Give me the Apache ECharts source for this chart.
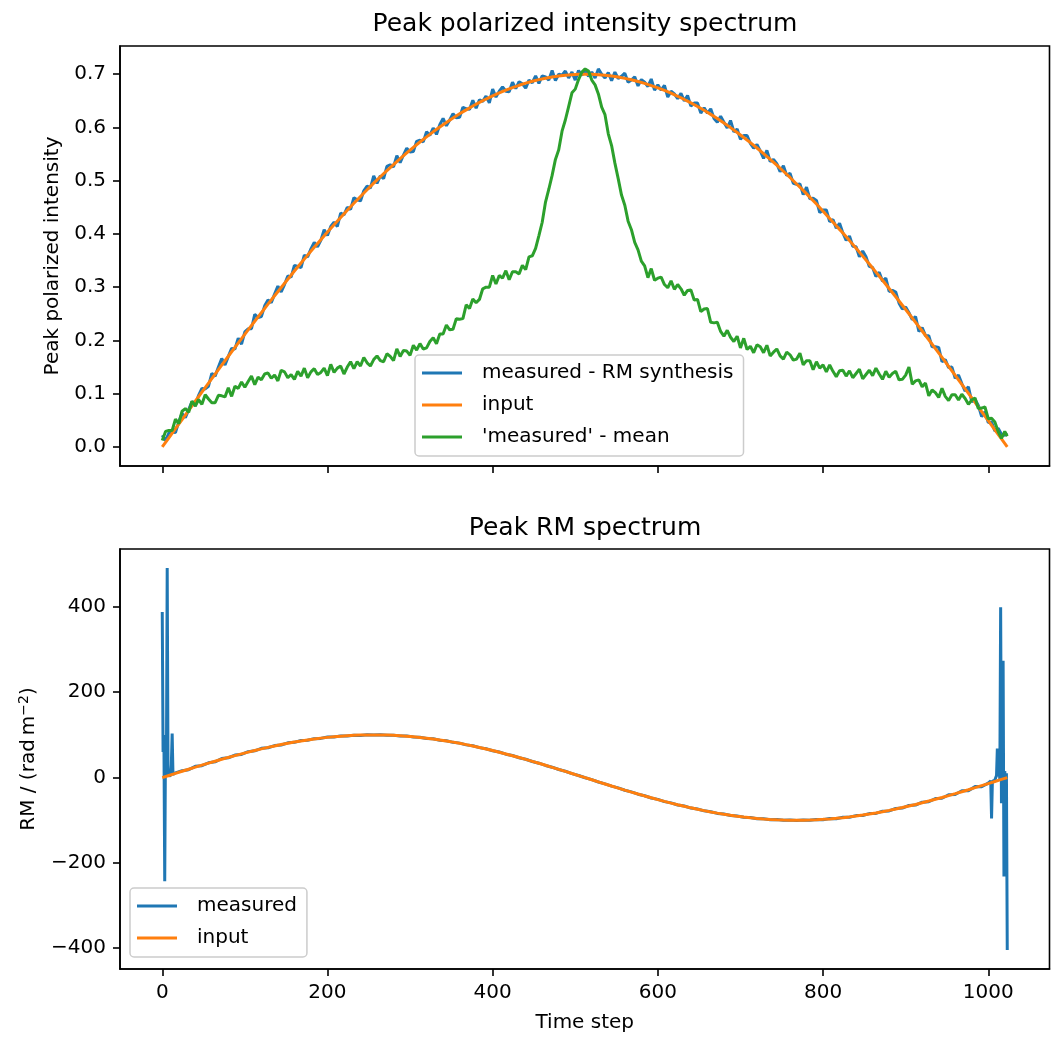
<!DOCTYPE html>
<html>
<head>
<meta charset="utf-8">
<title>Peak spectra</title>
<script src="https://cdn.jsdelivr.net/npm/echarts@6/dist/echarts.min.js"></script>
<style>
  html, body { margin: 0; padding: 0; background: #fff; }
  #chart { width: 1064px; height: 1050px; }
</style>
</head>
<body>
<div id="chart"></div>
<script>
// time steps of the smooth input curves
var steps = [
  0, 8, 16, 24, 32, 40, 48, 56,
  64, 72, 80, 88, 96, 104, 112, 120,
  128, 136, 144, 152, 160, 168, 176, 184,
  192, 200, 208, 216, 224, 232, 240, 248,
  256, 264, 272, 280, 288, 296, 304, 312,
  320, 328, 336, 344, 352, 360, 368, 376,
  384, 392, 400, 408, 416, 424, 432, 440,
  448, 456, 464, 472, 480, 488, 496, 504,
  512, 520, 528, 536, 544, 552, 560, 568,
  576, 584, 592, 600, 608, 616, 624, 632,
  640, 648, 656, 664, 672, 680, 688, 696,
  704, 712, 720, 728, 736, 744, 752, 760,
  768, 776, 784, 792, 800, 808, 816, 824,
  832, 840, 848, 856, 864, 872, 880, 888,
  896, 904, 912, 920, 928, 936, 944, 952,
  960, 968, 976, 984, 992, 1000, 1008, 1016,
  1023
];

// finer time steps for the noisy polarized intensity curves
var fineSteps = [
  0, 4, 8, 12, 16, 20, 24, 28, 32, 36, 40, 44, 48, 52, 56, 60,
  64, 68, 72, 76, 80, 84, 88, 92, 96, 100, 104, 108, 112, 116, 120, 124,
  128, 132, 136, 140, 144, 148, 152, 156, 160, 164, 168, 172, 176, 180, 184, 188,
  192, 196, 200, 204, 208, 212, 216, 220, 224, 228, 232, 236, 240, 244, 248, 252,
  256, 260, 264, 268, 272, 276, 280, 284, 288, 292, 296, 300, 304, 308, 312, 316,
  320, 324, 328, 332, 336, 340, 344, 348, 352, 356, 360, 364, 368, 372, 376, 380,
  384, 388, 392, 396, 400, 404, 408, 412, 416, 420, 424, 428, 432, 436, 440, 444,
  448, 452, 456, 460, 464, 468, 472, 476, 480, 484, 488, 492, 496, 500, 504, 508,
  512, 516, 520, 524, 528, 532, 536, 540, 544, 548, 552, 556, 560, 564, 568, 572,
  576, 580, 584, 588, 592, 596, 600, 604, 608, 612, 616, 620, 624, 628, 632, 636,
  640, 644, 648, 652, 656, 660, 664, 668, 672, 676, 680, 684, 688, 692, 696, 700,
  704, 708, 712, 716, 720, 724, 728, 732, 736, 740, 744, 748, 752, 756, 760, 764,
  768, 772, 776, 780, 784, 788, 792, 796, 800, 804, 808, 812, 816, 820, 824, 828,
  832, 836, 840, 844, 848, 852, 856, 860, 864, 868, 872, 876, 880, 884, 888, 892,
  896, 900, 904, 908, 912, 916, 920, 924, 928, 932, 936, 940, 944, 948, 952, 956,
  960, 964, 968, 972, 976, 980, 984, 988, 992, 996, 1000, 1004, 1008, 1012, 1016, 1020,
  1023
];

var piMeasured = [
  0.022, 0.012, 0.026, 0.028, 0.027, 0.047, 0.063, 0.055, 0.070, 0.085, 0.077, 0.097, 0.110, 0.109, 0.114, 0.138,
  0.133, 0.150, 0.166, 0.154, 0.170, 0.185, 0.184, 0.204, 0.193, 0.216, 0.222, 0.222, 0.249, 0.243, 0.245, 0.265,
  0.276, 0.271, 0.287, 0.302, 0.291, 0.305, 0.321, 0.319, 0.341, 0.339, 0.337, 0.360, 0.357, 0.372, 0.384, 0.376,
  0.388, 0.408, 0.397, 0.414, 0.422, 0.414, 0.439, 0.436, 0.450, 0.446, 0.468, 0.464, 0.462, 0.481, 0.490, 0.486,
  0.509, 0.495, 0.509, 0.504, 0.527, 0.530, 0.526, 0.547, 0.534, 0.548, 0.561, 0.554, 0.555, 0.574, 0.576, 0.573,
  0.592, 0.585, 0.599, 0.587, 0.605, 0.617, 0.603, 0.614, 0.626, 0.618, 0.619, 0.638, 0.635, 0.634, 0.651, 0.636,
  0.652, 0.649, 0.659, 0.646, 0.672, 0.657, 0.668, 0.676, 0.668, 0.667, 0.685, 0.673, 0.686, 0.682, 0.674, 0.689,
  0.684, 0.697, 0.683, 0.697, 0.695, 0.689, 0.707, 0.688, 0.700, 0.698, 0.706, 0.693, 0.704, 0.689, 0.707, 0.698,
  0.709, 0.696, 0.704, 0.693, 0.710, 0.700, 0.693, 0.703, 0.688, 0.704, 0.692, 0.696, 0.702, 0.685, 0.689, 0.695,
  0.678, 0.690, 0.685, 0.677, 0.691, 0.670, 0.680, 0.670, 0.679, 0.657, 0.668, 0.663, 0.654, 0.664, 0.650, 0.660,
  0.640, 0.646, 0.646, 0.627, 0.637, 0.627, 0.635, 0.617, 0.610, 0.621, 0.610, 0.599, 0.613, 0.592, 0.597, 0.578,
  0.585, 0.585, 0.570, 0.561, 0.568, 0.556, 0.542, 0.557, 0.536, 0.540, 0.532, 0.517, 0.528, 0.510, 0.514, 0.495,
  0.493, 0.494, 0.474, 0.488, 0.466, 0.467, 0.463, 0.440, 0.445, 0.445, 0.423, 0.427, 0.411, 0.420, 0.402, 0.388,
  0.396, 0.377, 0.376, 0.357, 0.368, 0.357, 0.339, 0.337, 0.320, 0.328, 0.311, 0.317, 0.292, 0.294, 0.291, 0.270,
  0.259, 0.263, 0.252, 0.239, 0.245, 0.217, 0.224, 0.209, 0.209, 0.188, 0.188, 0.187, 0.160, 0.164, 0.149, 0.150,
  0.129, 0.135, 0.119, 0.105, 0.113, 0.085, 0.089, 0.078, 0.057, 0.066, 0.046, 0.047, 0.030, 0.035, 0.024, 0.022,
  0.026
];

var piInput = [
  0, 0.0172, 0.0344, 0.0515, 0.0687, 0.0858, 0.1028, 0.1198,
  0.1367, 0.1535, 0.1703, 0.1869, 0.2034, 0.2198, 0.2360, 0.2521,
  0.2681, 0.2839, 0.2995, 0.3150, 0.3303, 0.3454, 0.3602, 0.3749,
  0.3893, 0.4035, 0.4174, 0.4310, 0.4444, 0.4576, 0.4704, 0.4829,
  0.4954, 0.5074, 0.5189, 0.5303, 0.5414, 0.5521, 0.5627, 0.5727,
  0.5824, 0.5918, 0.6008, 0.6094, 0.6177, 0.6256, 0.6331, 0.6403,
  0.6471, 0.6534, 0.6594, 0.6649, 0.6701, 0.6749, 0.6792, 0.6832,
  0.6867, 0.6899, 0.6926, 0.6949, 0.6967, 0.6982, 0.6992, 0.6998,
  0.7000, 0.6998, 0.6991, 0.6980, 0.6965, 0.6946, 0.6922, 0.6895,
  0.6863, 0.6827, 0.6787, 0.6743, 0.6695, 0.6643, 0.6586, 0.6526,
  0.6462, 0.6394, 0.6322, 0.6246, 0.6167, 0.6084, 0.5997, 0.5906,
  0.5812, 0.5715, 0.5614, 0.5510, 0.5402, 0.5292, 0.5178, 0.5061,
  0.4938, 0.4818, 0.4691, 0.4561, 0.4428, 0.4291, 0.4152, 0.4017,
  0.3875, 0.3730, 0.3584, 0.3435, 0.3284, 0.3131, 0.2976, 0.2820,
  0.2661, 0.2502, 0.2340, 0.2177, 0.2013, 0.1848, 0.1682, 0.1514,
  0.1346, 0.1177, 0.1007, 0.0836, 0.0665, 0.0494, 0.0322, 0.0150,
  0
];

var piMean = [
  0.012, 0.029, 0.031, 0.031, 0.052, 0.044, 0.067, 0.072, 0.065, 0.086, 0.077, 0.089, 0.080, 0.098, 0.090, 0.083,
  0.083, 0.097, 0.096, 0.094, 0.111, 0.095, 0.114, 0.110, 0.122, 0.112, 0.123, 0.133, 0.117, 0.131, 0.126, 0.137,
  0.139, 0.129, 0.135, 0.124, 0.144, 0.141, 0.130, 0.136, 0.127, 0.142, 0.133, 0.148, 0.130, 0.141, 0.147, 0.136,
  0.140, 0.148, 0.134, 0.155, 0.140, 0.148, 0.152, 0.137, 0.150, 0.160, 0.147, 0.160, 0.152, 0.168, 0.158, 0.152,
  0.164, 0.171, 0.162, 0.160, 0.175, 0.170, 0.162, 0.184, 0.170, 0.181, 0.180, 0.172, 0.191, 0.182, 0.194, 0.184,
  0.186, 0.198, 0.205, 0.194, 0.212, 0.212, 0.229, 0.220, 0.221, 0.241, 0.240, 0.241, 0.267, 0.260, 0.278, 0.271,
  0.277, 0.297, 0.300, 0.300, 0.322, 0.306, 0.322, 0.317, 0.331, 0.314, 0.329, 0.329, 0.325, 0.341, 0.333, 0.357,
  0.359, 0.373, 0.397, 0.422, 0.460, 0.484, 0.510, 0.540, 0.558, 0.593, 0.614, 0.639, 0.665, 0.672, 0.690, 0.704,
  0.710, 0.706, 0.689, 0.680, 0.663, 0.638, 0.624, 0.588, 0.566, 0.533, 0.504, 0.473, 0.454, 0.424, 0.408, 0.384,
  0.370, 0.349, 0.340, 0.318, 0.335, 0.313, 0.317, 0.319, 0.305, 0.299, 0.312, 0.296, 0.305, 0.297, 0.285, 0.294,
  0.295, 0.276, 0.277, 0.254, 0.259, 0.260, 0.234, 0.233, 0.234, 0.217, 0.208, 0.219, 0.206, 0.198, 0.208, 0.186,
  0.204, 0.183, 0.189, 0.177, 0.192, 0.188, 0.177, 0.191, 0.171, 0.178, 0.184, 0.171, 0.165, 0.178, 0.173, 0.163,
  0.165, 0.176, 0.154, 0.162, 0.162, 0.145, 0.160, 0.148, 0.154, 0.141, 0.154, 0.142, 0.132, 0.143, 0.144, 0.133,
  0.143, 0.130, 0.138, 0.146, 0.128, 0.136, 0.144, 0.134, 0.148, 0.137, 0.127, 0.142, 0.131, 0.138, 0.142, 0.126,
  0.127, 0.135, 0.150, 0.118, 0.124, 0.126, 0.113, 0.120, 0.096, 0.107, 0.102, 0.093, 0.110, 0.095, 0.087, 0.098,
  0.098, 0.088, 0.099, 0.091, 0.080, 0.088, 0.092, 0.072, 0.073, 0.075, 0.053, 0.054, 0.047, 0.029, 0.016, 0.029,
  0.020
];

// measured RM is sampled every step near the edges, where it jumps
var rmSteps = [
  0, 1, 2, 3, 4, 5, 6, 7, 8, 9, 10, 11, 12, 13, 14, 15, 16,
  24, 32, 40, 48, 56,
  64, 72, 80, 88, 96, 104, 112, 120,
  128, 136, 144, 152, 160, 168, 176, 184,
  192, 200, 208, 216, 224, 232, 240, 248,
  256, 264, 272, 280, 288, 296, 304, 312,
  320, 328, 336, 344, 352, 360, 368, 376,
  384, 392, 400, 408, 416, 424, 432, 440,
  448, 456, 464, 472, 480, 488, 496, 504,
  512, 520, 528, 536, 544, 552, 560, 568,
  576, 584, 592, 600, 608, 616, 624, 632,
  640, 648, 656, 664, 672, 680, 688, 696,
  704, 712, 720, 728, 736, 744, 752, 760,
  768, 776, 784, 792, 800, 808, 816, 824,
  832, 840, 848, 856, 864, 872, 880, 888,
  896, 904, 912, 920, 928, 936, 944, 952,
  960, 968, 976, 984, 992,
  1000, 1001, 1002, 1003, 1004, 1005, 1006, 1007, 1008, 1009, 1010, 1011,
  1012, 1013, 1014, 1015, 1016, 1017, 1018, 1019, 1020, 1021, 1022, 1023
];

var rmMeasured = [
  388, 60, 99, -243, 100, 6, 491, 5, 3, 6, 4, 30, 103, 7, 6, 10, 11,
  16.2, 18.5, 26.3, 27.9, 34.7,
  36.8, 44.6, 46.4, 52.7, 54.3, 60.6, 62.6, 68.6,
  69.8, 74.9, 76.3, 81.4, 82.5, 86.7, 87.3, 91.2,
  91.8, 95.1, 94.9, 97.7, 97.5, 99.4, 98.8, 100.5,
  99.5, 100.5, 98.9, 99.4, 97.4, 97.7, 95.1, 94.7,
  91.7, 90.8, 87.6, 86.3, 82.5, 80.7, 76.6, 74.5,
  70.2, 67.5, 62.8, 59.8, 54.8, 51.6, 46.5, 42.9,
  37.6, 33.7, 28.4, 24.3, 18.9, 14.7, 9.2, 4.9,
  -0.5, -4.9, -10.4, -14.7, -20.1, -24.2, -29.8, -33.6,
  -39.0, -42.6, -47.9, -51.2, -56.4, -59.4, -64.2, -66.8,
  -71.5, -73.8, -78.0, -80.0, -84.0, -85.4, -88.9, -90.0,
  -93.1, -93.8, -96.4, -96.5, -98.7, -98.4, -100.2, -99.4,
  -100.6, -99.3, -100.1, -98.2, -98.7, -96.1, -96.4, -93.1,
  -93.1, -89.2, -89.0, -84.4, -84.0, -78.8, -78.2, -72.5,
  -71.6, -65.4, -64.5, -57.6, -56.7, -49.2, -48.4, -40.3,
  -39.7, -30.9, -30.8, -21.2, -21.4,
  -13, -12, -11, -8, -96, -9, -8, -7, -6, -3, 5, 68,
  3, 30, -5, 399, -60, 20, 274, -232, 15, -40, 10, -404
];

var rmInput = [
  0, 4.91, 9.81, 14.69, 19.53, 24.32, 29.06, 33.72,
  38.30, 42.79, 47.18, 51.46, 55.61, 59.63, 63.49, 67.20,
  70.76, 74.14, 77.35, 80.38, 83.20, 85.83, 88.25, 90.44,
  92.44, 94.20, 95.73, 97.03, 98.10, 98.94, 99.53, 99.89,
  100.00, 99.87, 99.50, 98.89, 98.04, 96.96, 95.64, 94.09,
  92.31, 90.31, 88.09, 85.67, 83.03, 80.20, 77.17, 73.97,
  70.55, 66.99, 63.25, 59.37, 55.34, 51.19, 46.91, 42.52,
  38.02, 33.43, 28.76, 24.02, 19.23, 14.38, 9.51, 4.60,
  -0.31, -5.22, -10.12, -14.99, -19.83, -24.62, -29.35, -34.01,
  -38.59, -43.07, -47.45, -51.72, -55.86, -59.87, -63.73, -67.43,
  -70.98, -74.35, -77.54, -80.55, -83.37, -85.99, -88.38, -90.58,
  -92.54, -94.30, -95.82, -97.11, -98.16, -98.98, -99.56, -99.90,
  -100.00, -99.86, -99.47, -98.85, -97.98, -96.89, -95.55, -93.99,
  -92.19, -90.18, -87.95, -85.51, -82.87, -80.03, -76.98, -73.75,
  -70.34, -66.76, -63.02, -59.12, -55.09, -50.93, -46.64, -42.24,
  -37.74, -33.14, -28.47, -23.73, -18.92, -14.08, -9.20, -4.30,
  0
];

var timeTicks = [0, 200, 400, 600, 800, 1000];
var piTicks = [0, 0.1, 0.2, 0.3, 0.4, 0.5, 0.6, 0.7];
var rmTicks = [-400, -200, 0, 200, 400];

var FONT = 'DejaVu Sans';
var BLUE = '#1f77b4', ORANGE = '#ff7f0e', GREEN = '#2ca02c';

function pairs(xs, ys) {
  var out = [];
  for (var i = 0; i < ys.length; i++) out.push([xs[i], ys[i]]);
  return out;
}

function minusSign(v) {
  return v < 0 ? '\u2212' + (-v) : String(v);
}

var spine = { show: true, onZero: false, lineStyle: { color: '#000', width: 1.6 } };
var tickLine = { color: '#000', width: 1.6 };

function xAxisFor(idx) {
  return {
    type: 'value', gridIndex: idx, min: -51.15, max: 1074.15,
    axisLine: spine,
    axisTick: { show: true, inside: false, length: 7, customValues: timeTicks, lineStyle: tickLine },
    axisLabel: { show: idx === 1, customValues: timeTicks, margin: 14,
      fontFamily: FONT, fontSize: 20, color: '#000',
      formatter: function (v) { return String(v); } },
    splitLine: { show: false },
    name: idx === 1 ? 'Time step' : '',
    nameLocation: 'middle', nameGap: 44,
    nameTextStyle: { fontFamily: FONT, fontSize: 20, color: '#000' }
  };
}

function lineSeries(name, xi, xs, ys, color) {
  return {
    name: name, type: 'line', xAxisIndex: xi, yAxisIndex: xi,
    data: pairs(xs, ys), showSymbol: false, symbol: 'none', silent: true,
    lineStyle: { width: 3, color: color }, itemStyle: { color: color }
  };
}

var legendBase = {
  orient: 'vertical', icon: 'rect', itemWidth: 40, itemHeight: 3, itemGap: 8,
  padding: [6, 10, 7, 7], selectedMode: false,
  backgroundColor: 'rgba(255,255,255,0.8)', borderColor: '#cccccc',
  borderWidth: 1.5, borderRadius: 4,
  textStyle: { fontFamily: FONT, fontSize: 20, color: '#000', lineHeight: 24, padding: [0, 0, 0, 15] }
};

var chart = echarts.init(document.getElementById('chart'), null, { renderer: 'canvas' });

chart.setOption({
  animation: false,
  backgroundColor: '#fff',
  title: [
    { text: 'Peak polarized intensity spectrum', left: 585, top: 12, textAlign: 'center', padding: 0,
      textStyle: { fontFamily: FONT, fontSize: 25, fontWeight: 'normal', color: '#000' } },
    { text: 'Peak RM spectrum', left: 585, top: 516, textAlign: 'center', padding: 0,
      textStyle: { fontFamily: FONT, fontSize: 25, fontWeight: 'normal', color: '#000' } }
  ],
  grid: [
    { left: 120, top: 46, width: 929.5, height: 420, show: true, borderColor: '#000', borderWidth: 1.6 },
    { left: 120, top: 549, width: 929.5, height: 420, show: true, borderColor: '#000', borderWidth: 1.6 }
  ],
  legend: [
    Object.assign({}, legendBase, {
      data: ['measured - RM synthesis', 'input', "'measured' - mean"], left: 415, top: 355
    }),
    Object.assign({}, legendBase, {
      data: ['measured', 'input'], left: 130, top: 888
    })
  ],
  xAxis: [xAxisFor(0), xAxisFor(1)],
  yAxis: [
    {
      type: 'value', gridIndex: 0, min: -0.0358, max: 0.753,
      axisLine: spine,
      axisTick: { show: true, length: 7, customValues: piTicks, lineStyle: tickLine },
      axisLabel: { customValues: piTicks, margin: 14, fontFamily: FONT, fontSize: 20, color: '#000',
        formatter: function (v) { return v.toFixed(1); } },
      splitLine: { show: false },
      name: 'Peak polarized intensity', nameLocation: 'middle', nameGap: 57,
      nameTextStyle: { fontFamily: FONT, fontSize: 20, color: '#000' }
    },
    {
      type: 'value', gridIndex: 1, min: -448.75, max: 535.75,
      axisLine: spine,
      axisTick: { show: true, length: 7, customValues: rmTicks, lineStyle: tickLine },
      axisLabel: { customValues: rmTicks, margin: 14, fontFamily: FONT, fontSize: 20, color: '#000',
        formatter: minusSign },
      splitLine: { show: false },
      name: 'RM / (rad\u2009m{sup|\u22122})', nameLocation: 'middle', nameGap: 80,
      nameTextStyle: { fontFamily: FONT, fontSize: 20, color: '#000',
        rich: { sup: { fontFamily: FONT, fontSize: 14, color: '#000', padding: [0, 0, 9, 0] } } }
    }
  ],
  series: [
    lineSeries('measured - RM synthesis', 0, fineSteps, piMeasured, BLUE),
    lineSeries('input', 0, steps, piInput, ORANGE),
    lineSeries("'measured' - mean", 0, fineSteps, piMean, GREEN),
    lineSeries('measured', 1, rmSteps, rmMeasured, BLUE),
    lineSeries('input', 1, steps, rmInput, ORANGE)
  ]
});
</script>
</body>
</html>
